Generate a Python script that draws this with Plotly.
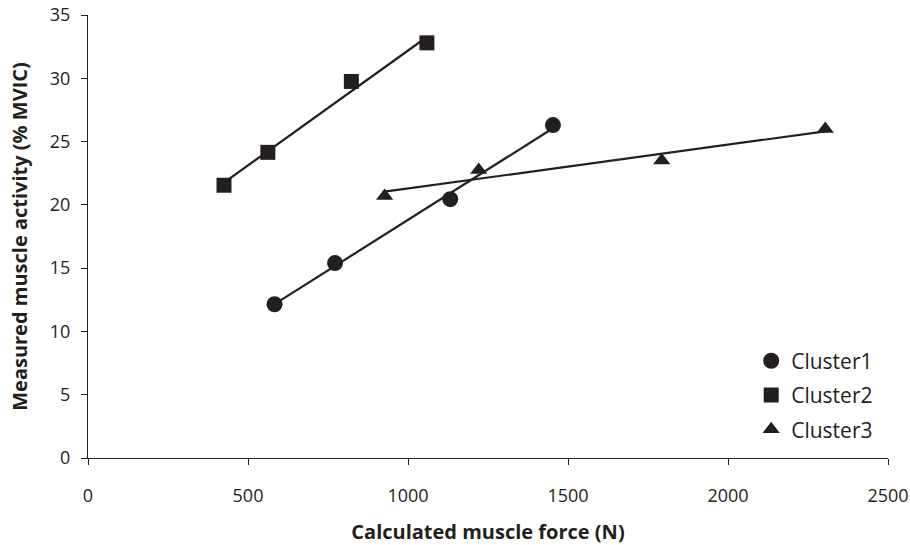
import numpy as np
import plotly.graph_objects as go

# Data
cluster1_force = [583, 772, 1132, 1453]
cluster1_activity = [12.15, 15.4, 20.45, 26.3]
cluster2_force = [425, 562, 823, 1059]
cluster2_activity = [21.55, 24.15, 29.75, 32.8]
cluster3_force = [927, 1221, 1793, 2304]
cluster3_activity = [20.7, 22.75, 23.5, 26.0]

series_names = ["Cluster1", "Cluster2", "Cluster3"]
x_ticks = [0, 500, 1000, 1500, 2000, 2500]
y_ticks = [0, 5, 10, 15, 20, 25, 30, 35]

INK = "#231f20"
FONT = "Open Sans, DejaVu Sans, sans-serif"

series = [
    (series_names[0], cluster1_force, cluster1_activity, "circle", 16),
    (series_names[1], cluster2_force, cluster2_activity, "square", 15),
    (series_names[2], cluster3_force, cluster3_activity, "triangle-up", 15),
]

fig = go.Figure()

# Linear trendlines (computed from data), drawn first
for name, xs, ys, sym, sz in series:
    xs_a = np.array(xs, dtype=float)
    ys_a = np.array(ys, dtype=float)
    m, b = np.polyfit(xs_a, ys_a, 1)
    lx = np.array([xs_a.min(), xs_a.max()])
    fig.add_trace(go.Scatter(
        x=lx, y=m * lx + b, mode="lines",
        line=dict(color=INK, width=2.2),
        showlegend=False, hoverinfo="skip",
    ))

# Markers
for i, (name, xs, ys, sym, sz) in enumerate(series):
    fig.add_trace(go.Scatter(
        x=xs, y=ys, mode="markers", name=name,
        marker=dict(symbol=sym, size=sz, color=INK, line=dict(width=0)),
        legendgroup=f"g{i}",
    ))

fig.update_layout(
    width=910, height=545,
    margin=dict(l=88, r=22, t=15, b=87),
    paper_bgcolor="white", plot_bgcolor="white",
    font=dict(family=FONT, size=18, color=INK),
    showlegend=True,
    legend=dict(
        x=0.829, y=0.265, xanchor="left", yanchor="top",
        bgcolor="rgba(0,0,0,0)", borderwidth=0,
        font=dict(family=FONT, size=21, color=INK),
        tracegroupgap=4,
        itemwidth=30,
    ),
    xaxis=dict(
        range=[0, 2500], tickvals=x_ticks, ticktext=[str(v) for v in x_ticks],
        showgrid=False, zeroline=False, automargin=False,
        showline=True, linecolor=INK, linewidth=1.3,
        ticks="outside", ticklen=6, tickwidth=1.3, tickcolor=INK,
        tickfont=dict(family=FONT, size=18, color=INK),
        ticklabelstandoff=15, ticklabeloverflow="allow",
        title=dict(text="<b>Calculated muscle force (N)</b>", standoff=22,
                   font=dict(family=FONT, size=20, color=INK)),
    ),
    yaxis=dict(
        range=[0, 35], tickvals=y_ticks, ticktext=[str(v) for v in y_ticks],
        showgrid=False, zeroline=False, automargin=False,
        showline=True, linecolor=INK, linewidth=1.3,
        ticks="outside", ticklen=6, tickwidth=1.3, tickcolor=INK,
        tickfont=dict(family=FONT, size=18, color=INK),
        ticklabelstandoff=7, ticklabeloverflow="allow",
        title=dict(text="<b>Measured muscle activity (% MVIC)</b>", standoff=16,
                   font=dict(family=FONT, size=20, color=INK)),
    ),
)

# Remove the default page margin so the 910x545 figure fills the window exactly
fig.write_html(
    "out.html",
    config={"displayModeBar": False},
    post_script="document.body.style.margin='0';document.body.style.overflow='hidden';",
)
